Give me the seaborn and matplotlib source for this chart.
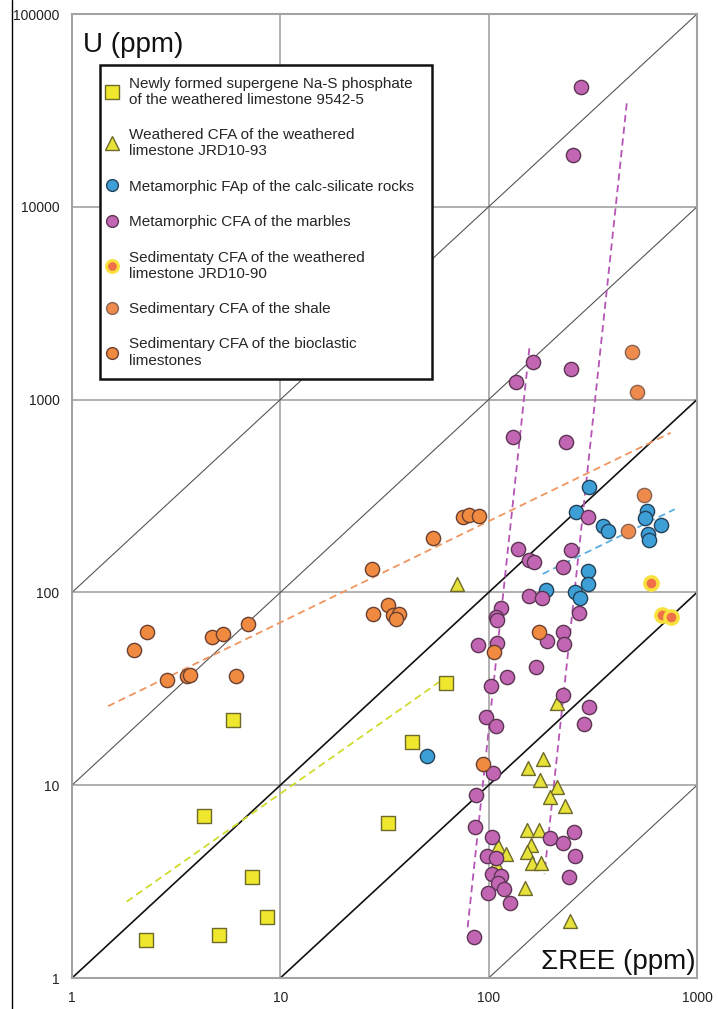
import numpy as np
import pandas as pd
import matplotlib
matplotlib.use("Agg")
import matplotlib.pyplot as plt
from matplotlib.lines import Line2D
import seaborn as sns

# --- data (sum REE, U in ppm) ---
sq_ree = [5.95, 4.3, 7.3, 8.65, 5.1, 2.27, 33, 43, 62.5]
sq_u = [21.8, 6.9, 3.33, 2.06, 1.67, 1.57, 6.4, 16.8, 33.8]

tri_ree = [70.8, 212, 182, 155, 176, 213, 198, 233, 152, 174, 160, 111, 153, 121, 161, 178, 108, 149, 246]
tri_u = [110.6, 26.8, 13.7, 12.3, 10.7, 9.75, 8.7, 7.8, 5.86, 5.86, 4.9, 4.86, 4.52, 4.4, 3.94, 3.94, 3.9, 2.94, 1.97]

fap_ree = [304, 262, 355, 374, 574, 565, 675, 580, 587, 300, 299, 189, 260, 275, 50.4]
fap_u = [351, 260, 222, 209, 265, 242, 223, 202, 187, 129, 110, 103, 101, 93.5, 14.1]

mar_ree = [278, 253, 164, 135.4, 248, 131, 235, 300, 139, 156, 165, 249, 227, 156, 180, 271,
           115, 109, 110, 228, 191, 231, 88.7, 110, 169, 122, 103, 227, 302, 287, 97.2, 108.5,
           105, 87, 85.8, 104, 257, 197, 228, 261, 98, 109, 242, 104, 114, 111, 118, 99.3, 127, 85]
mar_u = [42000, 18560, 1561, 1234, 1442, 637, 601, 247, 168, 148, 144, 165, 135, 95.4, 93.5, 78.2,
         83.3, 74.3, 71.9, 62.3, 56, 53.8, 53.2, 54.5, 41.2, 36.3, 32.8, 29.3, 25.5, 20.8, 22.7, 20.3,
         11.6, 8.9, 6.1, 5.37, 5.69, 5.34, 5.03, 4.29, 4.31, 4.18, 3.35, 3.45, 3.38, 3.12, 2.9, 2.77, 2.44, 1.64]

wsed_ree = [600, 680, 748]
wsed_u = [112.3, 76.6, 74.3]

sh_ree = [490, 514, 557, 467]
sh_u = [1759, 1091, 319, 208]

bio_ree = [2.30, 1.99, 2.85, 3.55, 3.69, 4.72, 5.29, 7.0, 6.13, 27.6, 28.0, 33, 34.9, 37.3, 35.9,
           53.9, 75.6, 80.5, 90.2, 175, 106.5, 94.3]
bio_u = [62.1, 50.3, 35.1, 37, 37.3, 58.9, 60.9, 68.6, 36.7, 131.8, 77.3, 85.8, 76.3, 77, 72.5,
         191.5, 247, 253, 250, 62.5, 49.3, 12.9]

# trend lines (end points)
yel_line = ([1.83, 59.7], [2.49, 35.1])
ora_line = ([1.49, 748], [25.7, 673])
blu_line = ([181.6, 782], [124.6, 270])
pur_line1 = ([156.8, 79.0], [1846, 1.77])
pur_line2 = ([460, 185.1], [34400, 3.46])

ratios = [0.01, 0.1, 1, 10, 100]

labels = [
    "Newly formed supergene Na-S phosphate\nof the weathered limestone 9542-5",
    "Weathered CFA of the weathered\nlimestone JRD10-93",
    "Metamorphic FAp of the calc-silicate rocks",
    "Metamorphic CFA of the marbles",
    "Sedimentaty CFA of the weathered\nlimestone JRD10-90",
    "Sedimentary CFA of the shale",
    "Sedimentary CFA of the bioclastic\nlimestones",
]

groups = [
    (sq_ree, sq_u, "s", "#efe62e", "#6e6a2a", 1.0, 90),
    (tri_ree, tri_u, "^", "#e6e23a", "#6e6a2a", 1.0, 100),
    (fap_ree, fap_u, "o", "#3d9fd6", "#24415a", 1.0, 105),
    (mar_ree, mar_u, "o", "#c266b3", "#5c3553", 1.0, 105),
    (wsed_ree, wsed_u, "o", "#f0704a", "#f7e13a", 2.5, 90),
    (sh_ree, sh_u, "o", "#ee8b4c", "#8a6350", 1.0, 105),
    (bio_ree, bio_u, "o", "#f08a40", "#6a4030", 1.0, 105),
]

df = pd.concat([pd.DataFrame({"ree": g[0], "u": g[1], "grp": i}) for i, g in enumerate(groups)],
               ignore_index=True)

sns.set_style("white")
plt.rcParams["font.family"] = ["Liberation Sans", "DejaVu Sans"]

fig = plt.figure(figsize=(7.18, 10.09), dpi=100)
ax = fig.add_axes([72 / 718, 1 - 978 / 1009, 625 / 718, 964 / 1009])
ax.set_xscale("log")
ax.set_yscale("log")
ax.set_xlim(1, 1000)
ax.set_ylim(1, 100000)

ax.grid(True, which="major", color="#a3a3a3", lw=1.2, zorder=0)
ax.set_axisbelow(True)
for sp in ax.spines.values():
    sp.set_color("#a3a3a3")
    sp.set_linewidth(1.5)

xs = np.array([1, 1000])
for r in ratios:
    if r in (0.1, 1):
        ax.plot(xs, xs * r, color="#111111", lw=1.2, zorder=1)
    else:
        ax.plot(xs, xs * r, color="#555555", lw=0.8, zorder=1)

dash = dict(ls=(0, (4, 2.5)), lw=1.3, zorder=2)
ax.plot(*yel_line, color="#cfdc2e", **dash)
ax.plot(*ora_line, color="#f0955f", **dash)
ax.plot(*blu_line, color="#5aaee0", **dash)
ax.plot(*pur_line1, color="#b555b5", **dash)
ax.plot(*pur_line2, color="#b555b5", **dash)

for i, (rx, ry, mk, fc, ec, lw, s) in enumerate(groups):
    sns.scatterplot(data=df[df.grp == i], x="ree", y="u", marker=mk, color=fc,
                    edgecolor=ec, linewidth=lw, s=s, ax=ax, zorder=3, legend=False)

ax.set_xlabel("")
ax.set_ylabel("")
ticks_x = [1, 10, 100, 1000]
ticks_y = [1, 10, 100, 1000, 10000, 100000]
ax.set_xticks(ticks_x)
ax.set_xticklabels([str(t) for t in ticks_x])
ax.set_yticks(ticks_y)
ax.set_yticklabels([str(t) for t in ticks_y])
ax.minorticks_off()
ax.tick_params(axis="both", direction="out", length=6, width=1.2, color="#a3a3a3",
               labelsize=10, labelcolor="#222222", pad=3)

ax.text(0.0176, 0.9606, "U (ppm)", transform=ax.transAxes, fontsize=20,
        ha="left", va="baseline", color="#111111")
ax.text(0.998, 0.0093, "\u03a3REE (ppm)", transform=ax.transAxes, fontsize=20,
        ha="right", va="baseline", color="#111111")

handles = [Line2D([], [], ls="none", marker=g[2], markerfacecolor=g[3], markeredgecolor=g[4],
                  markeredgewidth=g[5] if g[5] < 2 else 2.2,
                  markersize=9.5 if g[2] != "o" else 8.5) for g in groups]
leg = ax.legend(handles, labels, loc="upper left", mode="expand",
                bbox_to_anchor=(28 / 625, 0.3, 332 / 625, 0.647), borderaxespad=0,
                fontsize=11, frameon=True, fancybox=False, labelspacing=1.4,
                handletextpad=1.05, borderpad=0.75, handlelength=0.1)
leg.get_frame().set_edgecolor("#111111")
leg.get_frame().set_linewidth(1.8)
leg.get_frame().set_alpha(1)
leg.set_zorder(5)

fig.add_artist(Line2D([12 / 718, 12 / 718], [0, 1], color="black", lw=1))

fig.savefig("out.png", dpi=100)
